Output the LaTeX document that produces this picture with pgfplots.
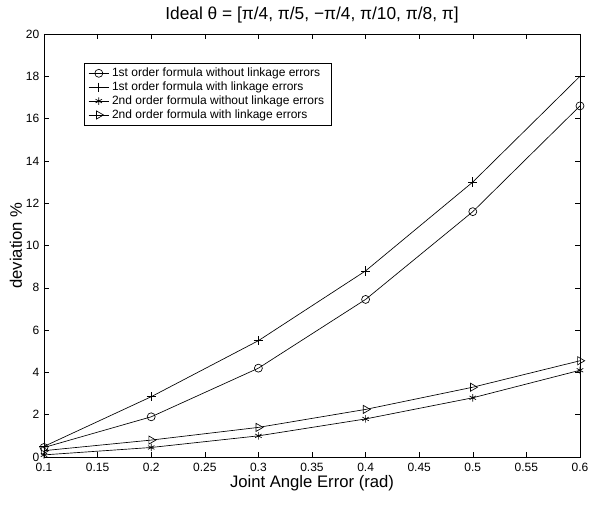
\documentclass[border=0pt]{standalone}
\usepackage{pgfplots}
\pgfplotsset{compat=1.18}
\usepackage{fontspec}
\setmainfont{Liberation Sans}
\begin{document}
\begin{tikzpicture}
\useasboundingbox (-33pt,-35.25pt) rectangle (417pt,342.75pt);
\begin{axis}[
  scale only axis,
  width=402pt, height=317.25pt,
  xmin=0.1, xmax=0.6, ymin=0, ymax=20,
  xtick={0.1,0.15,...,0.6},
  ytick={0,2,...,20},
  xticklabels={0.1,0.15,0.2,0.25,0.3,0.35,0.4,0.45,0.5,0.55,0.6},
  tick align=inside,
  major tick length=4pt,
  tick style={black, line width=0.4pt},
  axis line style={line width=0.5pt},
  ticklabel style={font=\fontsize{9}{10}\selectfont},
  xticklabel style={yshift=-1pt},
  /pgf/number format/assume math mode=true,
  label style={font=\fontsize{12.5}{14}\selectfont},
  xlabel={Joint Angle Error (rad)},
  ylabel={deviation \%},
  xlabel style={yshift=4pt},
  ylabel style={yshift=-4pt},
  title={Ideal θ  = [π/4, π/5, −π/4, π/10, π/8, π]},
  title style={font=\fontsize{13}{15}\selectfont, yshift=-1pt},
  legend style={at={(0.0746,0.9314)}, anchor=north west, draw=black, line width=0.4pt,
    font=\fontsize{9}{10}\selectfont, inner xsep=3pt, inner ysep=1.5pt, row sep=-1.6pt},
  legend cell align=left,
  legend image code/.code={\draw[mark repeat=2,mark phase=2,#1] plot coordinates {(0cm,0cm) (0.27cm,0cm) (0.54cm,0cm)};},
  every axis plot/.append style={black, line width=0.5pt, mark size=3pt},
]
\addplot[mark=o] coordinates {(0.1,0.45) (0.2,1.9) (0.3,4.2) (0.4,7.45) (0.5,11.6) (0.6,16.6)};
\addplot[mark=+, mark size=3.5pt] coordinates {(0.1,0.5) (0.2,2.85) (0.3,5.5) (0.4,8.8) (0.5,13.0) (0.6,18.0)};
\addplot[mark=asterisk, mark size=2.8pt] coordinates {(0.1,0.1) (0.2,0.45) (0.3,1.0) (0.4,1.8) (0.5,2.8) (0.6,4.1)};
\addplot[mark=triangle, mark options={rotate=-90}, mark size=3.5pt] coordinates {(0.1,0.3) (0.2,0.8) (0.3,1.4) (0.4,2.25) (0.5,3.3) (0.6,4.55)};
\legend{1st order formula without linkage errors, 1st order formula with linkage errors, 2nd order formula without linkage errors, 2nd order formula with linkage errors}
\end{axis}
\end{tikzpicture}
\end{document}
